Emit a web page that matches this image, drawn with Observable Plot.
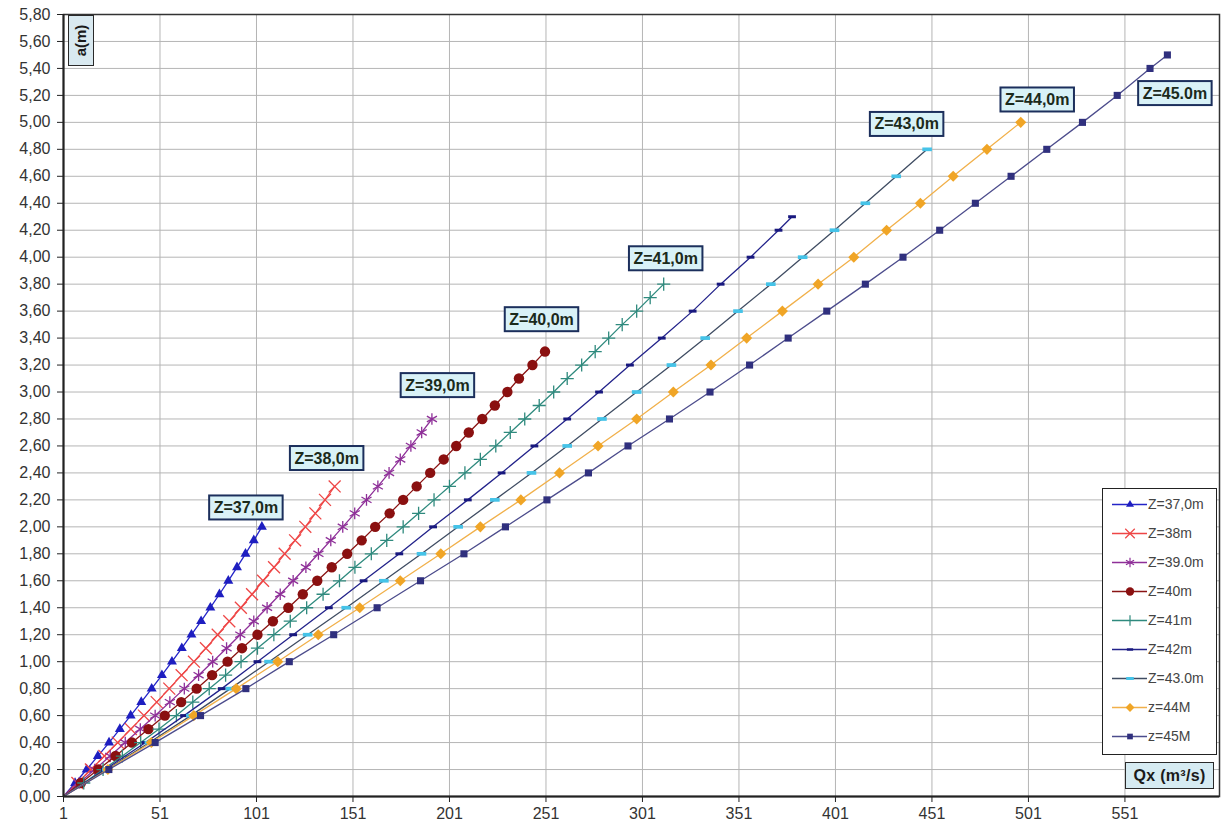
<!DOCTYPE html>
<html>
<head>
<meta charset="utf-8">
<script src="https://cdn.jsdelivr.net/npm/d3@7"></script>
<script src="https://cdn.jsdelivr.net/npm/@observablehq/plot@0.6"></script>
<style>
  body { margin: 0; background: #fff; font-family: "Liberation Sans", Arial, sans-serif; }
  #wrap { position: relative; width: 1224px; height: 830px; overflow: hidden; }
  #wrap svg { display: block; }
  .axisbox { position: absolute; box-sizing: border-box; border: 1.5px solid #2a2a2a; background: #d9e9f0;
             font-weight: bold; color: #1a1a1a; display: flex; align-items: center; justify-content: center; }
  #legend { position: absolute; box-sizing: border-box; border: 1.5px solid #222; background: #fff; }
  .lrow { position: absolute; left: 0; height: 29px; width: 112px; }
  .lrow svg { position: absolute; left: 0; top: 0; }
  .lrow span { position: absolute; left: 45px; top: 6px; font-size: 14px; color: #444; white-space: nowrap; }
</style>
</head>
<body>
<div id="wrap"></div>
<script>
// ---------- data ----------
const xTicks = [1, 51, 101, 151, 201, 251, 301, 351, 401, 451, 501, 551];
const yTicks = [0, 0.2, 0.4, 0.6, 0.8, 1.0, 1.2, 1.4, 1.6, 1.8, 2.0, 2.2, 2.4, 2.6, 2.8, 3.0,
                3.2, 3.4, 3.6, 3.8, 4.0, 4.2, 4.4, 4.6, 4.8, 5.0, 5.2, 5.4, 5.6, 5.8];

const seriesNames = ["Z=37,0m", "Z=38m", "Z=39.0m", "Z=40m", "Z=41m", "Z=42m", "Z=43.0m", "z=44M", "z=45M"];

const a37 = [0,0.1,0.2,0.3,0.4,0.5,0.6,0.7,0.8,0.9,1.0,1.1,1.2,1.3,1.4,1.5,1.6,1.7,1.8,1.9,2.0];
const q37 = [1,7,13,18.8,24.6,30.2,35.8,41.3,46.7,52,57.2,62.3,67.3,72.3,77.1,81.8,86.4,90.9,95.3,99.6,103.8];

const a38 = [0,0.1,0.2,0.3,0.4,0.5,0.6,0.7,0.8,0.9,1.0,1.1,1.2,1.3,1.4,1.5,1.6,1.7,1.8,1.9,2.0,2.1,2.2,2.3];
const q38 = [1,8.2,15.2,22.2,29.1,35.9,42.7,49.3,55.8,62.2,68.6,74.8,80.9,86.9,92.9,98.7,104.4,110.1,115.6,121,126.3,131.5,136.5,141.5];

const a39 = [0,0.1,0.2,0.3,0.4,0.5,0.6,0.7,0.8,0.9,1.0,1.1,1.2,1.3,1.4,1.5,1.6,1.7,1.8,1.9,2.0,2.1,2.2,2.3,2.4,2.5,2.6,2.7,2.8];
const q39 = [1,9.1,17.2,25.2,33,40.8,48.5,56.1,63.6,71,78.3,85.5,92.6,99.6,106.5,113.3,120,126.6,133.1,139.5,145.7,151.9,158,163.9,169.7,175.5,181,186.6,191.9];

const a40 = [0,0.1,0.2,0.3,0.4,0.5,0.6,0.7,0.8,0.9,1.0,1.1,1.2,1.3,1.4,1.5,1.6,1.7,1.8,1.9,2.0,2.1,2.2,2.3,2.4,2.5,2.6,2.7,2.8,2.9,3.0,3.1,3.2,3.3];
const q40 = [1,10,19,28,36.5,45,53.5,62,70,78,86,93.5,101.5,109.5,117.5,125,132.5,140,148,155.5,162.5,170,177,184,191,198,204.5,211,218,224.5,231,237,244,250.5];

const a41 = [0,0.1,0.2,0.3,0.4,0.5,0.6,0.7,0.8,0.9,1.0,1.1,1.2,1.3,1.4,1.5,1.6,1.7,1.8,1.9,2.0,2.1,2.2,2.3,2.4,2.5,2.6,2.7,2.8,2.9,3.0,3.1,3.2,3.3,3.4,3.5,3.6,3.7,3.8];
const q41 = [1,11.5,21.5,31.5,41,50.5,59.5,68,76.5,85,93,101.5,110,118.5,127,135.5,144,152,160.5,168.5,177,185,193,201,209,217,225,232.5,240,247.5,255,262,269.5,276.5,283.5,290.5,298,305,312];

const a42 = [0,0.2,0.4,0.6,0.8,1.0,1.2,1.4,1.6,1.8,2.0,2.2,2.4,2.6,2.8,3.0,3.2,3.4,3.6,3.8,4.0,4.2,4.3];
const q42 = [1,22.5,43.5,63.5,83,101.5,120,138.5,156.5,175,192.5,210.5,228,245,262,278.5,294.5,311,327,341.5,357,371.5,378.5];

const a43 = [0,0.2,0.4,0.6,0.8,1.0,1.2,1.4,1.6,1.8,2.0,2.2,2.4,2.6,2.8,3.0,3.2,3.4,3.6,3.8,4.0,4.2,4.4,4.6,4.8];
const q43 = [1,23.5,45.5,67,87.5,107.5,127.5,147.5,167,186.5,205.5,224.5,243.5,262,280,298,316,333.5,350.5,367.5,384,400.5,416.5,432.5,448.5];

const a44 = [0,0.2,0.4,0.6,0.8,1.0,1.2,1.4,1.6,1.8,2.0,2.2,2.4,2.6,2.8,3.0,3.2,3.4,3.6,3.8,4.0,4.2,4.4,4.6,4.8,5.0];
const q44 = [1,24,46.5,68.5,90.5,112,133,154.5,175.5,196.5,217,238,258,278,298,317,336.5,355,373.5,392,410.5,427.5,445,462,479.5,497];

const a45 = [0,0.2,0.4,0.6,0.8,1.0,1.2,1.4,1.6,1.8,2.0,2.2,2.4,2.6,2.8,3.0,3.2,3.4,3.6,3.8,4.0,4.2,4.4,4.6,4.8,5.0,5.2,5.4,5.5];
const q45 = [1,24.5,48.5,72,95.5,118,141,163.5,186,208.5,230,251.5,273,293.5,315,336,356.5,376.5,396.5,416.5,436,455,473.5,492,510.5,529,547,564,573];

const seriesA = [a37, a38, a39, a40, a41, a42, a43, a44, a45];
const seriesQ = [q37, q38, q39, q40, q41, q42, q43, q44, q45];

// end-of-line labels: which series, and text
const labelSeries = [0, 1, 2, 3, 4, 6, 7, 8];
const labelTexts = ["Z=37,0m", "Z=38,0m", "Z=39,0m", "Z=40,0m", "Z=41,0m", "Z=43,0m", "Z=44,0m", "Z=45.0m"];

// ---------- styles ----------
const dashSymbol = { draw(ctx, size) { const r = Math.sqrt(size / Math.PI); ctx.rect(-r * 1.3, -r * 0.5, r * 2.6, r); } };
const styles = [
  { line: "#2424c8", marker: "#1e1ec0", symbol: "triangle", r: 3.7, fill: true },
  { line: "#ee4646", marker: "#ee4646", symbol: "times",    r: 5.5, fill: false },
  { line: "#8e2f98", marker: "#8e2f98", symbol: "asterisk", r: 5.5, fill: false },
  { line: "#8a1414", marker: "#8a1010", symbol: "circle",   r: 5.2, fill: true },
  { line: "#2f8a7e", marker: "#2f8a7e", symbol: "plus",     r: 4.3, fill: false },
  { line: "#22228a", marker: "#18187e", symbol: dashSymbol, r: 3,   fill: true },
  { line: "#3f4c62", marker: "#45c3e8", symbol: dashSymbol, r: 3.7, fill: true },
  { line: "#f1b04a", marker: "#f0a526", symbol: "diamond2", r: 5,   fill: true },
  { line: "#4c4c8c", marker: "#30307e", symbol: "square",   r: 4,   fill: true }
];
const labelOffsets = [[-16, -19], [-8, -28], [5.5, -33.5], [-3.5, -32], [2, -25.5], [-20.5, -25], [16.5, -22.5], [7.5, 38.5]];

// ---------- build ----------
const series = seriesNames.map((name, i) => ({
  name,
  rows: seriesA[i].map((a, j) => ({ a, q: seriesQ[i][j] }))
}));

const marks = [
  Plot.gridX(xTicks, { stroke: "#b5b5b5", strokeOpacity: 1, strokeWidth: 1 }),
  Plot.gridY(yTicks, { stroke: "#b5b5b5", strokeOpacity: 1, strokeWidth: 1 })
];
series.forEach((s, i) => {
  const st = styles[i];
  marks.push(Plot.line(s.rows, { x: "q", y: "a", stroke: st.line, strokeWidth: 1.3 }));
  const pts = s.rows.filter(d => d.a > 0);
  marks.push(Plot.dot(pts, st.fill
    ? { x: "q", y: "a", symbol: st.symbol, r: st.r, fill: st.marker, stroke: "none" }
    : { x: "q", y: "a", symbol: st.symbol, r: st.r, fill: "none", stroke: st.marker, strokeWidth: 1.3 }));
});
labelSeries.forEach((si, k) => {
  const rows = series[si].rows;
  const last = rows[rows.length - 1];
  marks.push(Plot.text([last], {
    x: "q", y: "a", text: () => labelTexts[k], dx: labelOffsets[k][0], dy: labelOffsets[k][1],
    fontSize: 16, fontWeight: "bold", fill: "#1b2a1b", className: "zlabel"
  }));
});
marks.push(
  Plot.frame({ stroke: "#333", strokeWidth: 1.5 }),
  Plot.ruleX([1], { stroke: "#222", strokeWidth: 2 }),
  Plot.ruleY([0], { stroke: "#222", strokeWidth: 2 }),
  Plot.axisX(xTicks, { tickSize: 6, tickPadding: 5, tickFormat: d => String(d), label: null, stroke: "#222", fill: "#333" }),
  Plot.axisY(yTicks, { tickSize: 6, tickPadding: 7, tickFormat: d => d.toFixed(2).replace(".", ","), label: null, stroke: "#222", fill: "#333" })
);

const chart = Plot.plot({
  width: 1224, height: 830,
  marginLeft: 63, marginRight: 5, marginTop: 14, marginBottom: 34,
  x: { domain: [1, 600] },
  y: { domain: [0, 5.8] },
  style: { fontFamily: '"Liberation Sans", Arial, sans-serif', fontSize: "16px", color: "#333", background: "#fff", overflow: "visible" },
  marks
});

const wrap = document.getElementById("wrap");
wrap.appendChild(chart);

// boxes behind end labels
d3.select(chart).selectAll("g.zlabel text").each(function () {
  const b = this.getBBox();
  const cx = b.x + b.width / 2, cy = b.y + b.height / 2;
  const w = b.width + 9, h = 24;
  const rect = document.createElementNS("http://www.w3.org/2000/svg", "rect");
  this.parentNode.insertBefore(rect, this);
  const t = this.getAttribute("transform");
  if (t) rect.setAttribute("transform", t);
  rect.setAttribute("x", cx - w / 2);
  rect.setAttribute("y", cy - h / 2);
  rect.setAttribute("width", w);
  rect.setAttribute("height", h);
  rect.setAttribute("fill", "#d9f2f7");
  rect.setAttribute("stroke", "#1c2f5c");
  rect.setAttribute("stroke-width", 2);
});

// axis title boxes
const aBox = document.createElement("div");
aBox.className = "axisbox";
Object.assign(aBox.style, { left: "68px", top: "15px", width: "26px", height: "51px", fontSize: "15px" });
aBox.innerHTML = '<span style="display:inline-block;transform:rotate(-90deg);white-space:nowrap">a(m)</span>';
wrap.appendChild(aBox);

const qBox = document.createElement("div");
qBox.className = "axisbox";
Object.assign(qBox.style, { left: "1125px", top: "762px", width: "89px", height: "27px", fontSize: "16px", letterSpacing: "0.3px", background: "#d6ebf2" });
qBox.textContent = "Qx (m³/s)";
wrap.appendChild(qBox);

// legend
const legend = document.createElement("div");
legend.id = "legend";
Object.assign(legend.style, { left: "1102px", top: "488px", width: "115px", height: "267px" });
seriesNames.forEach((name, i) => {
  const st = styles[i];
  const row = document.createElement("div");
  row.className = "lrow";
  row.style.top = (1 + i * 29.05) + "px";
  const svg = d3.create("svg").attr("width", 45).attr("height", 29);
  svg.append("line").attr("x1", 9).attr("x2", 44).attr("y1", 14.5).attr("y2", 14.5)
    .attr("stroke", st.line).attr("stroke-width", 1.3);
  const symMap = { triangle: d3.symbolTriangle, times: d3.symbolTimes, asterisk: d3.symbolAsterisk, circle: d3.symbolCircle,
                   plus: d3.symbolPlus, diamond2: d3.symbolDiamond2, square: d3.symbolSquare };
  const type = typeof st.symbol === "string" ? symMap[st.symbol] : st.symbol;
  const rr = st.r * 0.8;
  svg.append("path").attr("transform", "translate(27,14.5)")
    .attr("d", d3.symbol(type, rr * rr * Math.PI)())
    .attr("fill", st.fill ? st.marker : "none")
    .attr("stroke", st.fill ? "none" : st.marker).attr("stroke-width", 1.2);
  row.appendChild(svg.node());
  const span = document.createElement("span");
  span.textContent = name;
  row.appendChild(span);
  legend.appendChild(row);
});
wrap.appendChild(legend);
</script>
</body>
</html>
